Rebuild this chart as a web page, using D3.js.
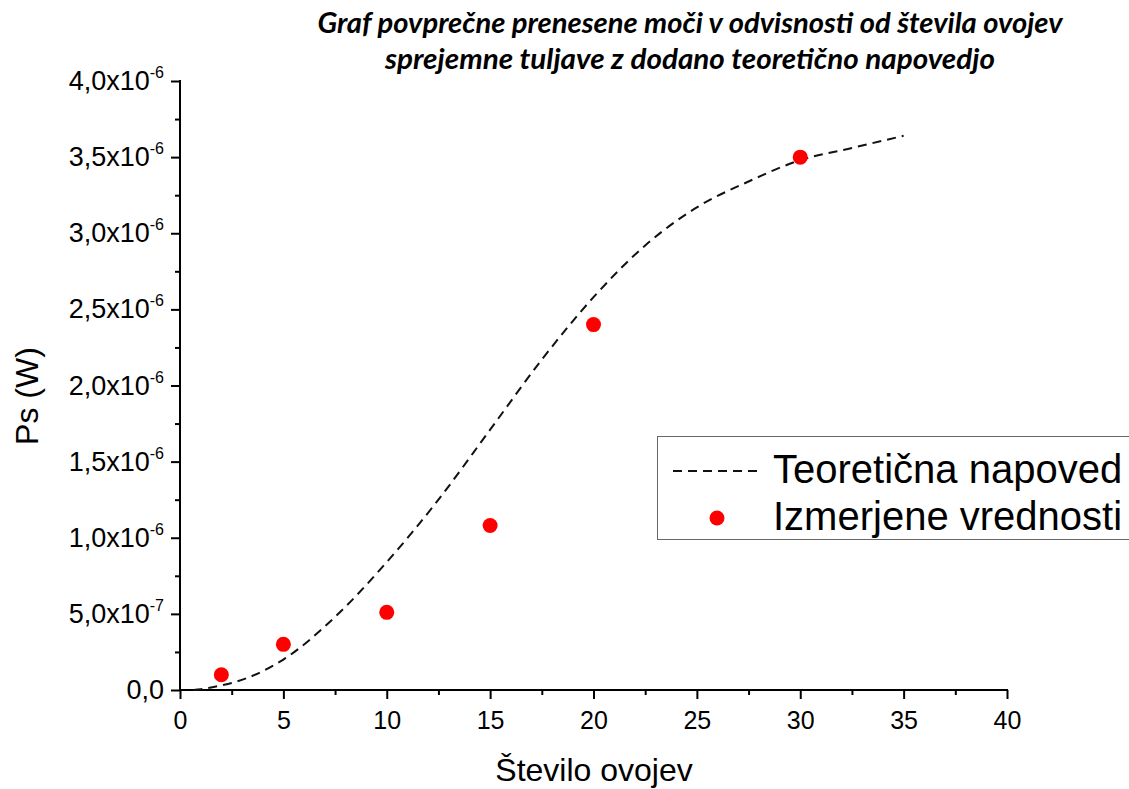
<!DOCTYPE html>
<html>
<head>
<meta charset="utf-8">
<script src="https://cdn.jsdelivr.net/npm/d3@7"></script>
<style>
  body { margin: 0; background: #fff; }
  svg text { font-family: "Liberation Sans", Arial, sans-serif; }
</style>
</head>
<body>
<svg id="chart" width="1129" height="789"></svg>
<script>
// measured points
const turns = [2, 5, 10, 15, 20, 30]
const power = [0.1e-6, 0.3e-6, 0.51e-6, 1.08e-6, 2.4e-6, 3.5e-6]

// theory curve
const theoryX = [0.65, 1, 2, 2.5, 5, 7.5, 10, 12.5, 15, 17.5, 20, 22.5, 25, 27.5, 30, 32.5, 35]
const theoryY = [0, 0.005e-6, 0.03e-6, 0.046e-6, 0.2e-6, 0.48e-6, 0.84e-6, 1.25e-6, 1.71e-6, 2.17e-6, 2.58e-6, 2.92e-6, 3.17e-6, 3.34e-6, 3.48e-6, 3.56e-6, 3.64e-6]

const xTicks = [0, 5, 10, 15, 20, 25, 30, 35, 40]
const yTicks = [0, 0.5e-6, 1e-6, 1.5e-6, 2e-6, 2.5e-6, 3e-6, 3.5e-6, 4e-6]
const yLabels = ['0,0', '5,0x10', '1,0x10', '1,5x10', '2,0x10', '2,5x10', '3,0x10', '3,5x10', '4,0x10']
const yExp = ['', '-7', '-6', '-6', '-6', '-6', '-6', '-6', '-6']

const svg = d3.select('#chart')

const x = d3.scaleLinear().domain([0, 40]).range([180, 1007])
const y = d3.scaleLinear().domain([0, 4e-6]).range([690, 81])

// minor ticks
const xMinor = d3.range(2.5, 40, 5)
const yMinor = d3.range(0.25e-6, 4e-6, 0.5e-6)

const xAxis = svg.append('g').attr('transform', 'translate(0,690)')
  .call(d3.axisBottom(x).tickValues(xTicks).tickSize(9).tickSizeOuter(0).tickFormat(d => d))
xAxis.select('.domain').attr('stroke-width', 2).attr('d', 'M179,0H1008')
xAxis.selectAll('.tick line').attr('stroke-width', 2)
xAxis.selectAll('.tick text').attr('font-size', 25).attr('y', 0).attr('dy', 39).attr('fill', '#000')

svg.append('g').attr('transform', 'translate(0,690)')
  .call(d3.axisBottom(x).tickValues(xMinor).tickSize(5).tickFormat(''))
  .call(g => g.select('.domain').remove())
  .selectAll('line').attr('stroke-width', 2)

const yAxis = svg.append('g').attr('transform', 'translate(180,0)')
  .call(d3.axisLeft(y).tickValues(yTicks).tickSize(9).tickSizeOuter(0).tickFormat(''))
yAxis.select('.domain').attr('stroke-width', 2).attr('d', 'M0,691V80')
yAxis.selectAll('.tick line').attr('stroke-width', 2)

svg.append('g').attr('transform', 'translate(180,0)')
  .call(d3.axisLeft(y).tickValues(yMinor).tickSize(5).tickFormat(''))
  .call(g => g.select('.domain').remove())
  .selectAll('line').attr('stroke-width', 2)

// y tick labels with superscript exponent
const yl = svg.append('g')
yTicks.forEach((v, i) => {
  const t = yl.append('text')
    .attr('x', 164)
    .attr('y', y(v) + 9)
    .attr('text-anchor', 'end')
    .attr('font-size', 27)
  t.append('tspan').text(yLabels[i])
  if (yExp[i]) t.append('tspan').attr('font-size', 16).attr('dy', -12).text(yExp[i])
})

// theory line
const line = d3.line()
  .x((d, i) => x(theoryX[i]))
  .y(d => y(d))
  .curve(d3.curveMonotoneX)

svg.append('path')
  .datum(theoryY)
  .attr('d', line)
  .attr('fill', 'none')
  .attr('stroke', '#111')
  .attr('stroke-width', 2)
  .attr('stroke-dasharray', '9,6')

// measured dots
svg.selectAll('circle.pt')
  .data(turns)
  .join('circle')
  .attr('class', 'pt')
  .attr('cx', d => x(d))
  .attr('cy', (d, i) => y(power[i]))
  .attr('r', 7.5)
  .attr('fill', '#ff0000')

// axis titles
svg.append('text')
  .attr('x', 594).attr('y', 781)
  .attr('text-anchor', 'middle')
  .attr('font-size', 32)
  .text('Število ovojev')

svg.append('text')
  .attr('transform', 'translate(38,396) rotate(-90)')
  .attr('text-anchor', 'middle')
  .attr('font-size', 32)
  .text('Ps (W)')

// title
const title = svg.append('text')
  .attr('text-anchor', 'middle')
  .attr('font-size', 28)
  .attr('font-weight', 'bold')
  .attr('font-style', 'italic')
  .style('font-family', 'Lato, "Open Sans", sans-serif')
title.append('tspan').attr('x', 690).attr('y', 33)
  .attr('textLength', 745).attr('lengthAdjust', 'spacingAndGlyphs')
  .text('Graf povprečne prenesene moči v odvisnosti od števila ovojev')
title.append('tspan').attr('x', 690).attr('y', 69)
  .attr('textLength', 610).attr('lengthAdjust', 'spacingAndGlyphs')
  .text('sprejemne tuljave z dodano teoretično napovedjo')

// legend
const lg = svg.append('g')
lg.append('rect')
  .attr('x', 657.5).attr('y', 436.5).attr('width', 474).attr('height', 103)
  .attr('fill', '#fff').attr('stroke', '#666').attr('stroke-width', 1)
lg.append('line')
  .attr('x1', 673).attr('x2', 757).attr('y1', 471).attr('y2', 471)
  .attr('stroke', '#111').attr('stroke-width', 2).attr('stroke-dasharray', '9,6')
lg.append('circle').attr('cx', 717).attr('cy', 518).attr('r', 7.5).attr('fill', '#ff0000')
lg.append('text').attr('x', 773).attr('y', 483).attr('font-size', 40).text('Teoretična napoved')
lg.append('text').attr('x', 773).attr('y', 530).attr('font-size', 40).text('Izmerjene vrednosti')
</script>
</body>
</html>
